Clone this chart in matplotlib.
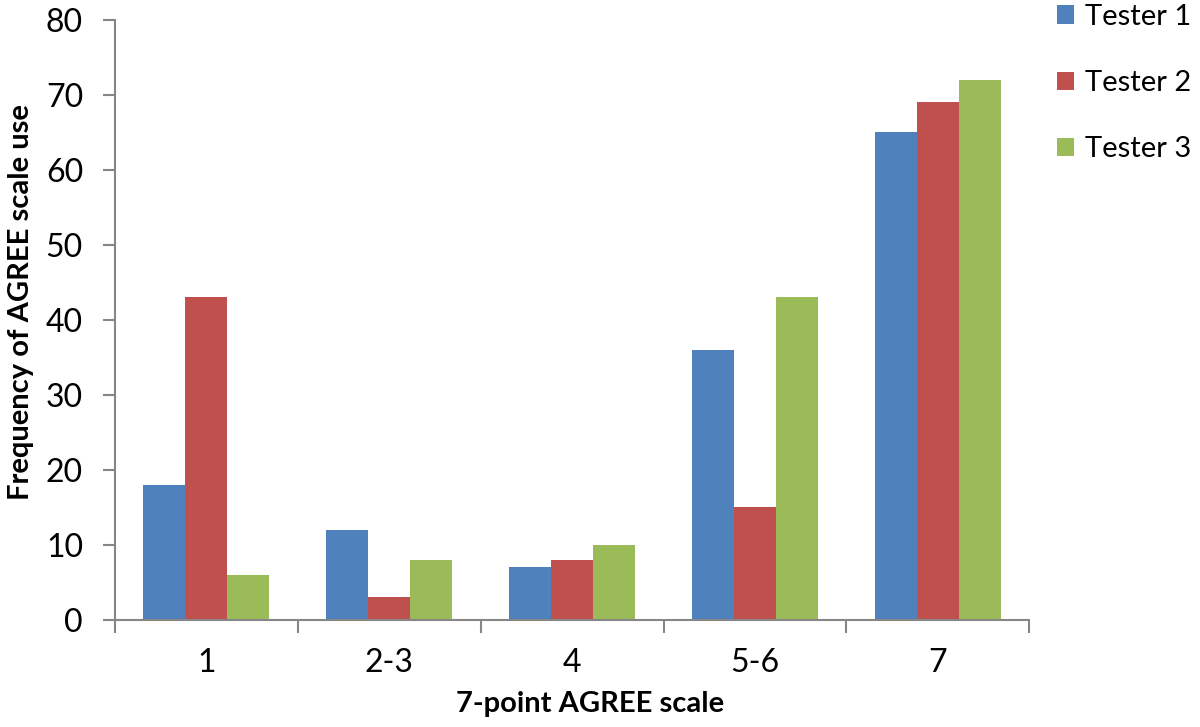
import matplotlib
matplotlib.use("Agg")
import matplotlib.pyplot as plt
import numpy as np

categories = ["1", "2-3", "4", "5-6", "7"]
tester1 = [18, 12, 7, 36, 65]
tester2 = [43, 3, 8, 15, 69]
tester3 = [6, 8, 10, 43, 72]
series_names = ["Tester 1", "Tester 2", "Tester 3"]
colors = ["#4F81BD", "#C0504D", "#9BBB59"]
axis_color = "#868686"

plt.rcParams["font.family"] = ["Lato", "DejaVu Sans"]

fig = plt.figure(figsize=(12, 7.27), dpi=100)
ax = fig.add_axes([0.0958, 0.1472, 0.762, 0.8253])

x = np.arange(len(categories))
width = 0.23
for i, (vals, name, c) in enumerate(zip([tester1, tester2, tester3], series_names, colors)):
    ax.bar(x + (i - 1) * width, vals, width, color=c, label=name)

ax.set_xlim(-0.5, len(categories) - 0.5)
ax.set_ylim(0, 80)
ax.set_yticks(range(0, 81, 10))
ax.set_xticks(x)
ax.set_xticklabels(categories)
ax.set_xticks(np.arange(-0.5, len(categories), 1.0), minor=True)

ax.tick_params(axis="y", labelsize=23, length=9, width=1.5, color=axis_color, pad=14)
ax.tick_params(axis="x", which="major", labelsize=23, length=0, pad=20)
ax.tick_params(axis="x", which="minor", length=9, width=1.5, color=axis_color)

for side in ["top", "right"]:
    ax.spines[side].set_visible(False)
for side in ["left", "bottom"]:
    ax.spines[side].set_color(axis_color)
    ax.spines[side].set_linewidth(1.5)

ax.set_ylabel("Frequency of AGREE scale use", fontsize=21, fontweight="bold")
ax.set_xlabel("7-point AGREE scale", fontsize=21, fontweight="bold")
ax.xaxis.set_label_coords(0.52, -0.118)
ax.yaxis.set_label_coords(-0.088, 0.53)

ax.legend(loc="upper left", bbox_to_anchor=(1.03, 1.027), borderaxespad=0, borderpad=0,
          frameon=False, fontsize=21, handlelength=0.6, handleheight=0.6,
          handletextpad=0.35, labelspacing=1.38)

fig.savefig("out.png", dpi=100)
